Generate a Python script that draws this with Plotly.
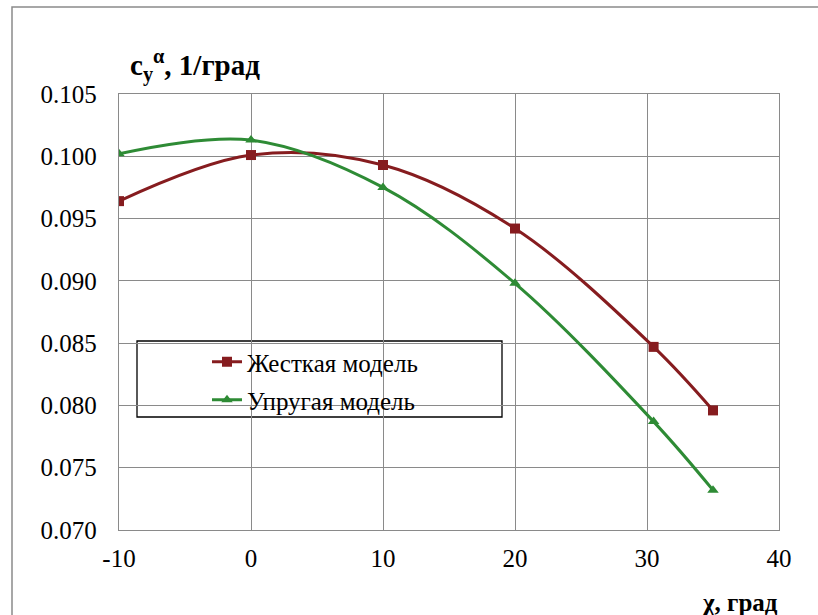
import plotly.graph_objects as go

# Sweep angle, degrees
chi_rigid = [-10, 0, 10, 20, 30.5, 35]
chi_elastic = [-10, 0, 10, 20, 30.5, 35]

# Lift-curve slope c_y^alpha, 1/deg
cy_rigid = [0.0964, 0.1001, 0.0993, 0.0942, 0.0847, 0.0796]
cy_elastic = [0.1002, 0.1013, 0.0975, 0.0898, 0.0787, 0.0732]

name_rigid = "Жесткая модель"
name_elastic = "Упругая модель"

x_ticks = [-10, 0, 10, 20, 30, 40]
y_ticks = [0.070, 0.075, 0.080, 0.085, 0.090, 0.095, 0.100, 0.105]

RED = "#861c1f"
GREEN = "#2e8b35"
FONT = "Liberation Serif"

fig = go.Figure()
fig.add_trace(go.Scatter(
    x=chi_rigid, y=cy_rigid, name=name_rigid, mode="lines+markers",
    line=dict(color=RED, width=3, shape="spline", smoothing=1),
    marker=dict(symbol="square", size=10, color=RED),
    legend="legend",
))
fig.add_trace(go.Scatter(
    x=chi_elastic, y=cy_elastic, name=name_elastic, mode="lines+markers",
    line=dict(color=GREEN, width=3, shape="spline", smoothing=1),
    marker=dict(symbol="triangle-up", size=10, color=GREEN),
    legend="legend2",
))

L, R, T, B = 119, 39, 94, 85
W, H = 818, 615
pw, ph = W - L - R, H - T - B


def px_x(v):
    return (v - L) / pw


def px_y(v):
    return (H - B - v) / ph


axis_common = dict(
    showgrid=True, gridcolor="#8a8a8a", gridwidth=1.3,
    showline=True, linecolor="#8a8a8a", linewidth=1.3, mirror=True,
    zeroline=False, ticks="", tickfont=dict(family=FONT, size=25, color="black"),
)

fig.update_xaxes(range=[-10, 40], tickvals=x_ticks, ticktext=[str(v) for v in x_ticks],
                 ticklabelstandoff=6, **axis_common)
fig.update_yaxes(range=[0.070, 0.105], tickvals=y_ticks, tickformat=".3f",
                 ticklabelstandoff=16, **axis_common)

legend_common = dict(
    font=dict(family=FONT, size=25, color="black"),
    bgcolor="rgba(0,0,0,0)", borderwidth=0,
    xanchor="left", yanchor="middle", itemwidth=30,
)

fig.update_layout(
    width=W, height=H,
    margin=dict(l=L, r=R, t=T, b=B),
    paper_bgcolor="white", plot_bgcolor="white",
    font=dict(family=FONT, color="black"),
    showlegend=True,
    legend=dict(x=px_x(207), y=px_y(362), **legend_common),
    legend2=dict(x=px_x(207), y=px_y(400), **legend_common),
    shapes=[
        # legend frame
        dict(type="rect", xref="paper", yref="paper",
             x0=px_x(137), x1=px_x(502), y0=px_y(417), y1=px_y(341),
             line=dict(color="black", width=1.3), fillcolor="white", layer="below"),
        # outer chart frame
        dict(type="rect", xref="paper", yref="paper",
             x0=px_x(12), x1=px_x(830), y0=px_y(630), y1=px_y(7),
             line=dict(color="#8a8a8a", width=1.5), layer="below"),
    ],
    annotations=[
        dict(text="<b>c<sub>y</sub><sup>α</sup>, 1/град</b>", xref="paper", yref="paper",
             x=px_x(128), y=px_y(65), xanchor="left", yanchor="middle", showarrow=False,
             font=dict(family=FONT, size=29, color="black")),
        dict(text="<b>χ, град</b>", xref="paper", yref="paper",
             x=px_x(780), y=px_y(602), xanchor="right", yanchor="middle", showarrow=False,
             font=dict(family=FONT, size=25, color="black")),
    ],
)

fig.write_html("out.html")
